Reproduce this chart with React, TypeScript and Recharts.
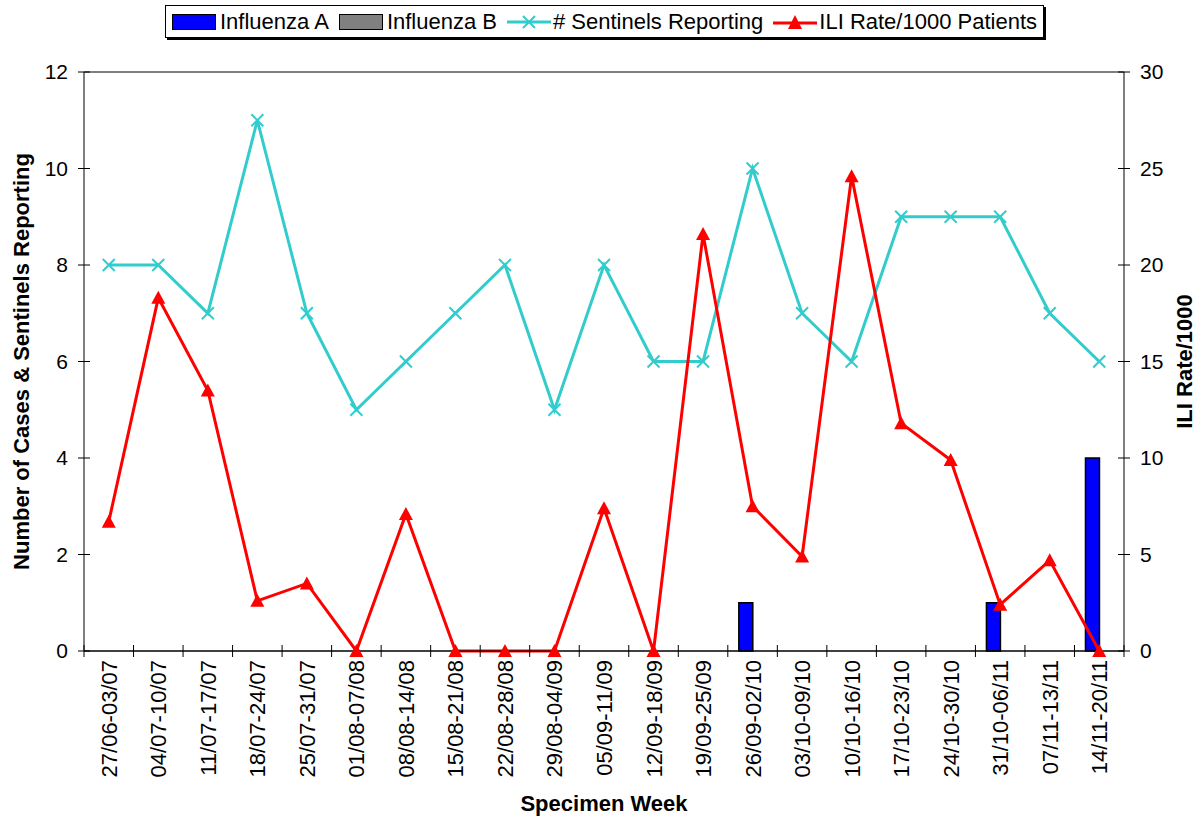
import { ComposedChart, Bar, Line, XAxis, YAxis, CartesianGrid } from 'recharts';

const weeks = [
  '27/06-03/07', '04/07-10/07', '11/07-17/07', '18/07-24/07', '25/07-31/07',
  '01/08-07/08', '08/08-14/08', '15/08-21/08', '22/08-28/08', '29/08-04/09',
  '05/09-11/09', '12/09-18/09', '19/09-25/09', '26/09-02/10', '03/10-09/10',
  '10/10-16/10', '17/10-23/10', '24/10-30/10', '31/10-06/11', '07/11-13/11',
  '14/11-20/11',
];
const fluA = [0, 0, 0, 0, 0, 0, 0, 0, 0, 0, 0, 0, 0, 1, 0, 0, 0, 0, 1, 0, 4];
const fluB = [0, 0, 0, 0, 0, 0, 0, 0, 0, 0, 0, 0, 0, 0, 0, 0, 0, 0, 0, 0, 0];
const sentinels = [8, 8, 7, 11, 7, 5, 6, 7, 8, 5, 8, 6, 6, 10, 7, 6, 9, 9, 9, 7, 6];
const iliRate = [6.7, 18.3, 13.5, 2.6, 3.5, 0, 7.1, 0, 0, 0, 7.4, 0, 21.6, 7.5, 4.9, 24.6, 11.8, 9.9, 2.4, 4.7, 0];
const leftTicks = [0, 2, 4, 6, 8, 10, 12];
const rightTicks = [0, 5, 10, 15, 20, 25, 30];

const data = weeks.map((w, i) => ({
  week: w,
  a: fluA[i],
  b: fluB[i],
  sent: sentinels[i],
  ili: iliRate[i],
}));

const FONT = '"Liberation Sans", Arial, sans-serif';
const band = 1040 / weeks.length;

const WeekTick = (props: any) => {
  const { x, y, payload, index } = props;
  const axisY = y - 8;
  const ty = axisY + 9;
  return (
    <g>
      <line x1={x - band / 2} x2={x - band / 2} y1={axisY - 6} y2={axisY + 6} stroke="#000" />
      {index === weeks.length - 1 && (
        <line x1={x + band / 2} x2={x + band / 2} y1={axisY - 6} y2={axisY + 6} stroke="#000" />
      )}
      <text
        x={x + 8}
        y={ty}
        transform={`rotate(-90, ${x + 8}, ${ty})`}
        textAnchor="end"
        fontSize={22}
        fontFamily={FONT}
        fill="#000"
      >
        {payload.value}
      </text>
    </g>
  );
};

// y-axis tick that also draws the short inward part of the tick mark
const ValueTick = (props: any) => {
  const { x, y, payload, orientation } = props;
  const left = orientation !== 'right';
  const axisX = left ? x + 16 : x - 16;
  return (
    <g>
      <line x1={axisX - 6} x2={axisX + 6} y1={y} y2={y} stroke="#000" />
      <text
        x={x}
        y={y}
        dy={7}
        textAnchor={left ? 'end' : 'start'}
        fontSize={21}
        fontFamily={FONT}
        fill="#000"
      >
        {payload.value}
      </text>
    </g>
  );
};

const CrossMark = (props: any) => {
  const { cx, cy } = props;
  if (cx == null || cy == null) return null;
  const s = 6;
  return (
    <g stroke="#33CCCC" strokeWidth={2}>
      <line x1={cx - s} y1={cy - s} x2={cx + s} y2={cy + s} />
      <line x1={cx - s} y1={cy + s} x2={cx + s} y2={cy - s} />
    </g>
  );
};

const TriMark = (props: any) => {
  const { cx, cy } = props;
  if (cx == null || cy == null) return null;
  const s = 7;
  return <polygon points={`${cx},${cy - s} ${cx + s},${cy + s - 1} ${cx - s},${cy + s - 1}`} fill="#FF0000" />;
};

const LegendBox = () => (
  <div
    style={{
      position: 'absolute',
      left: 165,
      top: 5,
      border: '1px solid #000',
      boxShadow: '2px 2px 0 #000',
      background: '#fff',
      display: 'flex',
      alignItems: 'center',
      height: 31,
      padding: '0 6px',
      fontFamily: FONT,
      fontSize: 22,
      color: '#000',
      whiteSpace: 'nowrap',
      zIndex: 2,
    }}
  >
    <span style={{ display: 'inline-block', width: 42, height: 14, background: '#0000FF', border: '1.5px solid #000', marginRight: 4 }} />
    <span style={{ marginRight: 10 }}>Influenza A</span>
    <span style={{ display: 'inline-block', width: 42, height: 14, background: '#808080', border: '1.5px solid #000', marginRight: 4 }} />
    <span style={{ marginRight: 10 }}>Influenza B</span>
    <svg width={44} height={20} style={{ marginRight: 2 }}>
      <line x1={0} y1={10} x2={44} y2={10} stroke="#33CCCC" strokeWidth={3} />
      <line x1={16} y1={4} x2={28} y2={16} stroke="#33CCCC" strokeWidth={2} />
      <line x1={16} y1={16} x2={28} y2={4} stroke="#33CCCC" strokeWidth={2} />
    </svg>
    <span style={{ marginRight: 10 }}># Sentinels Reporting</span>
    <svg width={44} height={20} style={{ marginRight: 2 }}>
      <line x1={0} y1={11} x2={44} y2={11} stroke="#FF0000" strokeWidth={3} />
      <polygon points="22,3 29,17 15,17" fill="#FF0000" />
    </svg>
    <span>ILI Rate/1000 Patients</span>
  </div>
);

export default function App() {
  return (
    <div style={{ position: 'absolute', left: 0, top: 0, width: 1203, height: 821, background: '#fff' }}>
      <LegendBox />
      <ComposedChart
        width={1203}
        height={821}
        data={data}
        margin={{ top: 72, right: 19, bottom: 20, left: 24 }}
        barSize={14}
        barGap={0}
      >
        <CartesianGrid horizontal vertical={false} stroke="#000" strokeWidth={1} />
        <XAxis
          dataKey="week"
          interval={0}
          height={150}
          stroke="#000"
          tickLine={false}
          tick={<WeekTick />}
          label={{ value: 'Specimen Week', position: 'insideBottom', offset: -10, fontSize: 22, fontWeight: 'bold', fontFamily: FONT, fill: '#000' }}
        />
        <YAxis
          yAxisId="left"
          domain={[0, 12]}
          ticks={leftTicks}
          width={60}
          stroke="#000"
          tickLine={false}
          tickSize={6}
          tickMargin={10}
          tick={<ValueTick orientation="left" />}
          label={{ value: 'Number of Cases & Sentinels Reporting', angle: -90, position: 'insideLeft', offset: -3, style: { textAnchor: 'middle' }, fontSize: 22, fontWeight: 'bold', fontFamily: FONT, fill: '#000' }}
        />
        <YAxis
          yAxisId="right"
          orientation="right"
          domain={[0, 30]}
          ticks={rightTicks}
          width={60}
          stroke="#000"
          tickLine={false}
          tickSize={6}
          tickMargin={10}
          tick={<ValueTick orientation="right" />}
          label={{ value: 'ILI Rate/1000', angle: -90, position: 'insideRight', offset: 0, style: { textAnchor: 'middle' }, fontSize: 22, fontWeight: 'bold', fontFamily: FONT, fill: '#000' }}
        />
        <Bar yAxisId="left" dataKey="a" name="Influenza A" fill="#0000FF" stroke="#000" strokeWidth={1.5} isAnimationActive={false} />
        <Bar yAxisId="left" dataKey="b" name="Influenza B" fill="#808080" stroke="#000" strokeWidth={1.5} isAnimationActive={false} />
        <Line
          yAxisId="left"
          dataKey="sent"
          name="# Sentinels Reporting"
          stroke="#33CCCC"
          strokeWidth={3}
          dot={<CrossMark />}
          activeDot={false}
          isAnimationActive={false}
        />
        <Line
          yAxisId="right"
          dataKey="ili"
          name="ILI Rate/1000 Patients"
          stroke="#FF0000"
          strokeWidth={3}
          dot={<TriMark />}
          activeDot={false}
          isAnimationActive={false}
        />
      </ComposedChart>
    </div>
  );
}
